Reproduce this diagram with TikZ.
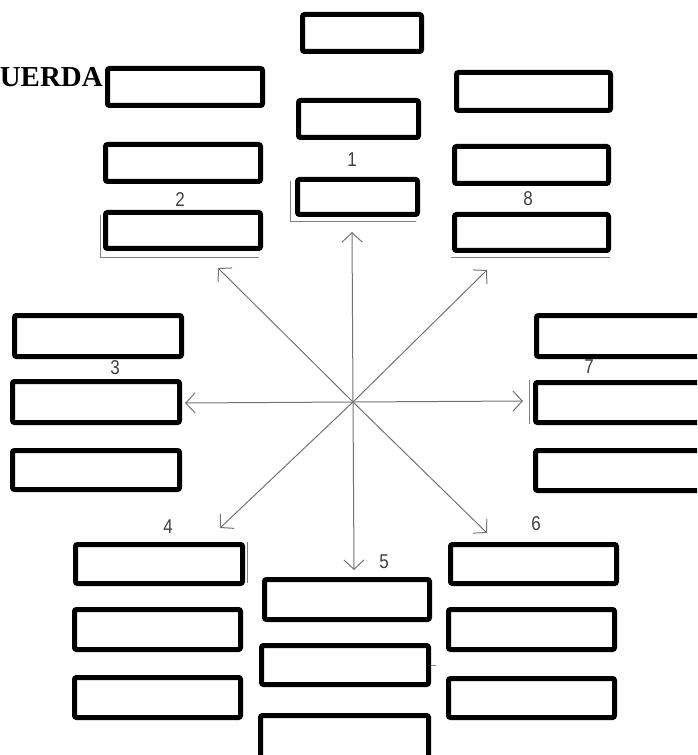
\documentclass[tikz,border=0pt]{standalone}
\usepackage{fontspec}
\setmainfont{Liberation Serif}
\newfontfamily\lblfont[FakeStretch=0.85]{Liberation Sans}
\usetikzlibrary{arrows.meta}
\newcommand\mybox[5]{\node[box, minimum width={(#4-#2-5)*0.75pt}, minimum height={(#5-#3-5)*0.75pt}] (#1) at ({(#2+#4)/2},{(#3+#5)/2}) {};}
\begin{document}
\begin{tikzpicture}[x=0.75pt,y=-0.75pt,
  box/.style={draw=black, fill=white, line width=3.75pt, rounded corners=1.5pt, inner sep=0pt},
  shade/.style={draw=black!50, line width=0.7pt},
  arr/.style={draw=black!55, line width=0.75pt, -{Straight Barb[length=7pt,width=15pt,line width=0.75pt]}},
  lbl/.style={font=\lblfont\fontsize{15}{15}\selectfont, text=black!75, inner sep=0pt},
  title/.style={font=\bfseries\fontsize{21.7}{21.7}\selectfont, inner sep=0pt, anchor=base east}]
\useasboundingbox (0,0) rectangle (697,755);
\clip (0,0) rectangle (697,755);

% title fragment
\node[title] (t) at (103,87) {UERDA};

% arrows
\coordinate (c) at (353,402);
\coordinate (tN) at (352,232);
\coordinate (tNE) at (487,270);
\coordinate (tE) at (523,401);
\coordinate (tSE) at (487,533);
\coordinate (tS) at (354,570);
\coordinate (tSW) at (220,528);
\coordinate (tW) at (185,403);
\coordinate (tNW) at (218,268);
\foreach \t in {tN,tNE,tE,tSE,tS,tSW,tW,tNW} \draw[arr] (c) -- (\t);

% labels
\node[lbl] (l1) at (352,160) {1};
\node[lbl] (l2) at (180,200) {2};
\node[lbl] (l3) at (115,368) {3};
\node[lbl] (l4) at (168,527) {4};
\node[lbl] (l5) at (384,562) {5};
\node[lbl] (l6) at (536,524) {6};
\node[lbl] (l7) at (589,367) {7};
\node[lbl] (l8) at (528,199) {8};

% thin shadow lines
\draw[shade] (290,181) |- (416,221);
\draw[shade] (100,215) |- (259,257);
\draw[shade] (451,257) -- (610,257);
\draw[shade] (529,380) -- (529,424);
\draw[shade] (247,542) -- (247,583);
\draw[shade] (431,665) -- (436,665);

% group 1
\mybox{b1a}{300}{12}{424}{54}
\mybox{b1b}{296}{98}{421}{140}
\mybox{b1c}{295}{177}{420}{217}
% group 2
\mybox{b2a}{105}{66}{265}{108}
\mybox{b2b}{103}{142}{263}{184}
\mybox{b2c}{103}{210}{263}{251}
% group 8
\mybox{b8a}{454}{70}{613}{113}
\mybox{b8b}{452}{144}{611}{186}
\mybox{b8c}{452}{212}{611}{253}
% group 3
\mybox{b3a}{12}{313}{184}{359}
\mybox{b3b}{10}{379}{182}{425}
\mybox{b3c}{10}{448}{182}{492}
% group 7
\mybox{b7a}{534}{313}{706}{359}
\mybox{b7b}{533}{380}{705}{425}
\mybox{b7c}{533}{448}{705}{493}
% group 4
\mybox{b4a}{73}{542}{245}{586}
\mybox{b4b}{72}{607}{243}{652}
\mybox{b4c}{72}{675}{243}{720}
% group 5
\mybox{b5a}{262}{577}{432}{622}
\mybox{b5b}{259}{643}{431}{687}
\mybox{b5c}{258}{713}{431}{760}
% group 6
\mybox{b6a}{448}{542}{619}{586}
\mybox{b6b}{446}{607}{617}{652}
\mybox{b6c}{446}{676}{617}{720}
\end{tikzpicture}
\end{document}
